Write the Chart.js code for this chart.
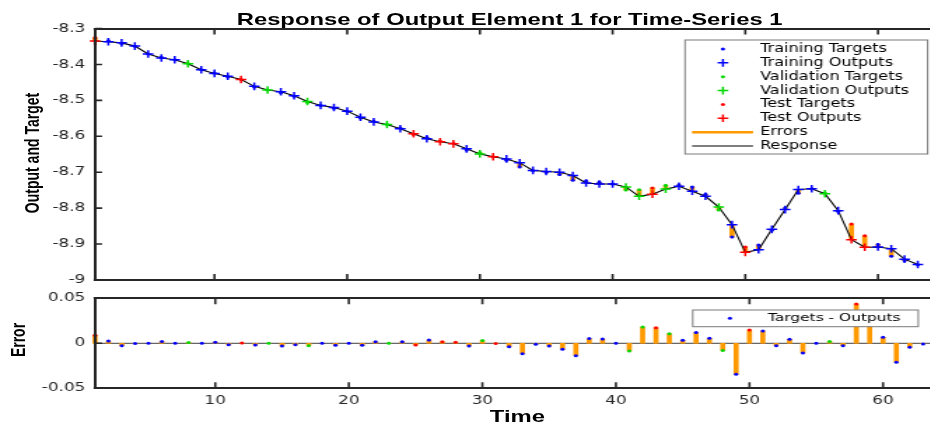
<!DOCTYPE html>
<html>
<head>
<meta charset="utf-8">
<script src="https://cdn.jsdelivr.net/npm/chart.js@4.4.1/dist/chart.umd.min.js"></script>
<style>
  html, body { margin: 0; padding: 0; background: #fff; overflow: hidden; }
  /* the reference figure is stretched sideways, so draw narrow and scale */
  #figure {
    position: absolute; left: 0; top: 0; width: 664px; height: 423px;
    transform: scaleX(1.4); transform-origin: 0 0;
    font-family: "Liberation Sans", Arial, sans-serif; color: #000;
  }
  canvas { position: absolute; left: 0; }
  #topChart { top: 0; }
  #botChart { top: 290px; }
  .frame {
    position: absolute; left: 66.9px; width: 620px; box-sizing: border-box;
    border-left: 2px solid #262626; border-top: 2px solid #262626; border-bottom: 2px solid #262626;
    pointer-events: none; z-index: 2;
  }
  #frameTop { top: 27.5px; height: 253.5px; }
  #frameBot { top: 297.3px; height: 92px; }
  .lbl { position: absolute; white-space: nowrap; font-weight: bold; }
  #title { left: 114px; width: 500px; top: 10.6px; text-align: center; font-size: 17px; line-height: 17px; }
  #xlab  { left: 269.6px; width: 200px; top: 408px; text-align: center; font-size: 17px; line-height: 17px; }
  .ylab  { font-size: 14px; line-height: 14px; transform: translate(-50%, -50%) rotate(-90deg); }
  #ylabTop { left: 23.2px; top: 153px; }
  #ylabBot { left: 12.9px; top: 340px; }
</style>
</head>
<body>
<div id="figure">
  <canvas id="topChart" width="664" height="290"></canvas>
  <canvas id="botChart" width="664" height="133"></canvas>
  <div class="frame" id="frameTop"></div>
  <div class="frame" id="frameBot"></div>
  <div class="lbl" id="title">Response of Output Element 1 for Time-Series 1</div>
  <div class="lbl" id="xlab">Time</div>
  <div class="lbl ylab" id="ylabTop">Output and Target</div>
  <div class="lbl ylab" id="ylabBot">Error</div>
</div>
<script>
"use strict";

// time steps
const TIME_STEPS = [
   1,  2,  3,  4,  5,  6,  7,  8,  9, 10, 11, 12, 13, 14, 15, 16, 17, 18, 19, 20, 21,
  22, 23, 24, 25, 26, 27, 28, 29, 30, 31, 32, 33, 34, 35, 36, 37, 38, 39, 40, 41, 42,
  43, 44, 45, 46, 47, 48, 49, 50, 51, 52, 53, 54, 55, 56, 57, 58, 59, 60, 61, 62, 63
];

// network outputs
const OUTPUTS = [
  -8.335, -8.337, -8.340, -8.349, -8.371, -8.382, -8.387, -8.398, -8.415, -8.425,
  -8.433, -8.442, -8.461, -8.471, -8.476, -8.487, -8.503, -8.514, -8.520, -8.530,
  -8.547, -8.560, -8.567, -8.579, -8.593, -8.607, -8.615, -8.621, -8.635, -8.649,
  -8.657, -8.663, -8.674, -8.695, -8.698, -8.700, -8.709, -8.730, -8.733, -8.733,
  -8.741, -8.767, -8.761, -8.747, -8.739, -8.753, -8.767, -8.797, -8.846, -8.923,
  -8.916, -8.859, -8.804, -8.748, -8.746, -8.760, -8.807, -8.888, -8.909, -8.908,
  -8.913, -8.942, -8.957
];

// targets - outputs
const ERRORS = [
   0.0090,  0.0026, -0.0026, -0.0003,  0.0000,  0.0020,  0.0000,  0.0010,  0.0000,  0.0013,
  -0.0017,  0.0003, -0.0020,  0.0000, -0.0030, -0.0017, -0.0027,  0.0000, -0.0023,  0.0000,
  -0.0023,  0.0018,  0.0000,  0.0018, -0.0020,  0.0037,  0.0018,  0.0013, -0.0029,  0.0030,
  -0.0003, -0.0037, -0.0115, -0.0010, -0.0030, -0.0067, -0.0137,  0.0052,  0.0048,  0.0000,
  -0.0085,  0.0180,  0.0174,  0.0107,  0.0033,  0.0120,  0.0056, -0.0081, -0.0344,  0.0148,
   0.0137, -0.0026,  0.0044, -0.0107,  0.0000,  0.0020, -0.0026,  0.0437,  0.0320,  0.0067,
  -0.0210, -0.0043, -0.0007
];

// which time steps belong to the validation and test sets (rest is training)
const VAL_STEPS  = [8, 14, 17, 23, 30, 41, 42, 44, 48, 56];
const TEST_STEPS = [1, 12, 25, 27, 28, 31, 43, 50, 58, 59];

// axis ticks
const X_TICKS       = [10, 20, 30, 40, 50, 60];
const X_LABELS      = ["10", "20", "30", "40", "50", "60"];
const Y_TICKS_TOP   = [-9, -8.9, -8.8, -8.7, -8.6, -8.5, -8.4, -8.3];
const Y_LABELS_TOP  = ["-9", "-8.9", "-8.8", "-8.7", "-8.6", "-8.5", "-8.4", "-8.3"];
const Y_TICKS_BOT   = [-0.05, 0, 0.05];
const Y_LABELS_BOT  = ["-0.05", "0", "0.05"];

const X_MIN = 1;
const X_MAX = 63.33;

// colours
const COLORS = {
  train:  "#0000ff",
  val:    "#00d800",
  test:   "#ff0000",
  error:  "#ff9900",
  resp:   "#000000",
  axis:   "#262626",
  zero:   "#404040",
  legend: "#7a7a7a"
};

const TICK_FONT = { family: "'DejaVu Sans', sans-serif", size: 12 };

function groupOf(t) {
  if (TEST_STEPS.includes(t)) return "test";
  if (VAL_STEPS.includes(t))  return "val";
  return "train";
}

// points of one group, y picked by fn
function groupPoints(group, fn) {
  const pts = [];
  TIME_STEPS.forEach((t, i) => {
    if (groupOf(t) === group) pts.push({ x: t, y: fn(i) });
  });
  return pts;
}

const target = i => OUTPUTS[i] + ERRORS[i];

// inward tick marks (MATLAB look)
function drawTicks(chart, box, yTicks) {
  const ctx = chart.ctx;
  const xs = chart.scales.x;
  const ys = chart.scales.y;
  ctx.save();
  ctx.strokeStyle = COLORS.axis;
  ctx.lineWidth = 1.6;
  ctx.beginPath();
  X_TICKS.forEach(v => {
    const px = xs.getPixelForValue(v);
    ctx.moveTo(px, box.top);
    ctx.lineTo(px, box.top + 6);
    ctx.moveTo(px, box.bottom);
    ctx.lineTo(px, box.bottom - 6);
  });
  yTicks.forEach(v => {
    const py = ys.getPixelForValue(v);
    ctx.moveTo(box.left, py);
    ctx.lineTo(box.left + 5, py);
  });
  ctx.stroke();
  ctx.restore();
}

// boxed legend drawn from the datasets' own labels and styles
function drawLegend(chart, opts) {
  const ctx = chart.ctx;
  ctx.save();
  ctx.fillStyle = "#fff";
  ctx.fillRect(opts.left, opts.top, opts.width, opts.height);
  ctx.strokeStyle = COLORS.legend;
  ctx.lineWidth = 1;
  ctx.strokeRect(opts.left, opts.top, opts.width, opts.height);
  ctx.font = opts.fontSize + "px 'DejaVu Sans', sans-serif";
  ctx.textBaseline = "middle";
  ctx.textAlign = "left";

  opts.order.forEach((label, k) => {
    const ds = chart.data.datasets.find(d => d.label === label);
    const y  = opts.firstY + k * opts.step;
    const cx = opts.symbolX;
    if (ds.type === "bar") {
      ctx.strokeStyle = ds.backgroundColor;
      ctx.lineWidth = 2.5;
      ctx.beginPath(); ctx.moveTo(opts.lineX0, y); ctx.lineTo(opts.lineX1, y); ctx.stroke();
    } else if (ds.showLine) {
      ctx.strokeStyle = ds.borderColor;
      ctx.lineWidth = ds.borderWidth;
      ctx.beginPath(); ctx.moveTo(opts.lineX0, y); ctx.lineTo(opts.lineX1, y); ctx.stroke();
    } else if (ds.pointStyle === "cross") {
      const r = ds.pointRadius;
      ctx.strokeStyle = ds.borderColor;
      ctx.lineWidth = ds.borderWidth;
      ctx.beginPath();
      ctx.moveTo(cx - r, y); ctx.lineTo(cx + r, y);
      ctx.moveTo(cx, y - r); ctx.lineTo(cx, y + r);
      ctx.stroke();
    } else {
      ctx.fillStyle = ds.backgroundColor;
      ctx.beginPath(); ctx.arc(cx, y, ds.pointRadius, 0, Math.PI * 2); ctx.fill();
    }
    ctx.fillStyle = "#000";
    ctx.fillText(ds.label, opts.textX, y);
  });
  ctx.restore();
}

// zero line under the data, ticks and legend on top
const matlabDecor = {
  id: "matlabDecor",
  beforeDatasetsDraw(chart, args, opts) {
    if (!opts.zeroLine) return;
    const ctx = chart.ctx;
    const py = chart.scales.y.getPixelForValue(0);
    ctx.save();
    ctx.strokeStyle = COLORS.zero;
    ctx.lineWidth = 1;
    ctx.beginPath();
    ctx.moveTo(opts.box.left, py);
    ctx.lineTo(opts.box.right, py);
    ctx.stroke();
    ctx.restore();
  },
  afterDraw(chart, args, opts) {
    drawTicks(chart, opts.box, opts.zeroLine ? Y_TICKS_BOT : Y_TICKS_TOP);
    drawLegend(chart, opts.legend);
  }
};

Chart.defaults.font.family = TICK_FONT.family;
Chart.defaults.font.size   = TICK_FONT.size;
Chart.defaults.color       = COLORS.axis;

function crossSet(label, group) {
  return {
    type: "line", label, showLine: false, clip: false,
    data: groupPoints(group, i => OUTPUTS[i]),
    pointStyle: "cross", pointRadius: 3.8, pointHoverRadius: 3.8,
    borderColor: COLORS[group], backgroundColor: COLORS[group], borderWidth: 1.5
  };
}

function dotSet(label, group, fn) {
  return {
    type: "line", label, showLine: false, clip: false,
    data: groupPoints(group, fn),
    pointStyle: "circle", pointRadius: 1.5, pointHoverRadius: 1.5,
    borderWidth: 0, borderColor: COLORS[group], backgroundColor: COLORS[group]
  };
}

function noPad(s) {
  s.paddingTop = 0; s.paddingBottom = 0; s.paddingLeft = 0; s.paddingRight = 0;
}

function xScale(showLabels, height) {
  return {
    type: "linear", min: X_MIN, max: X_MAX, display: showLabels, offset: false,
    grid: { display: false, drawTicks: false, offset: false },
    border: { display: false },
    afterBuildTicks: s => { s.ticks = X_TICKS.map(v => ({ value: v })); },
    afterFit: s => { s.height = height; noPad(s); },
    ticks: { padding: 5, maxRotation: 0, autoSkip: false, callback: (v, i) => X_LABELS[i] }
  };
}

function yScale(min, max, ticks, labels) {
  return {
    type: "linear", min, max, beginAtZero: false,
    grid: { display: false, drawTicks: false },
    border: { display: false },
    afterBuildTicks: s => { s.ticks = ticks.map(v => ({ value: v })); },
    afterFit: s => { s.width = 67.9; noPad(s); },
    ticks: { padding: 7, autoSkip: false, callback: (v, i) => labels[i] }
  };
}

// upper plot: outputs, targets, response and errors
new Chart(document.getElementById("topChart"), {
  type: "line",
  plugins: [matlabDecor],
  data: {
    datasets: [
      crossSet("Training Outputs", "train"),
      crossSet("Validation Outputs", "val"),
      crossSet("Test Outputs", "test"),
      dotSet("Training Targets", "train", target),
      dotSet("Validation Targets", "val", target),
      dotSet("Test Targets", "test", target),
      {
        type: "line", label: "Response", showLine: true, clip: false,
        data: TIME_STEPS.map((t, i) => ({ x: t, y: OUTPUTS[i] })),
        borderColor: COLORS.resp, borderWidth: 1.1, pointRadius: 0, tension: 0
      },
      {
        type: "bar", label: "Errors", clip: false,
        data: TIME_STEPS.map((t, i) => ({ x: t, y: [OUTPUTS[i], target(i)] })),
        backgroundColor: COLORS.error, borderWidth: 0, barThickness: 3
      }
    ]
  },
  options: {
    responsive: false,
    animation: false,
    events: [],
    layout: { padding: { top: 28.5, bottom: 10, left: 0, right: 0 } },
    scales: {
      x: xScale(false, 0),
      y: yScale(-9, -8.3, Y_TICKS_TOP, Y_LABELS_TOP)
    },
    plugins: {
      legend: { display: false },
      tooltip: { enabled: false },
      matlabDecor: {
        zeroLine: false,
        box: { left: 67.9, right: 664, top: 28.5, bottom: 280 },
        legend: {
          left: 489.3, top: 40, width: 173.3, height: 114,
          firstY: 49, step: 13.86, symbolX: 516.4, lineX0: 494.3, lineX1: 537.9, textX: 542.9,
          fontSize: 11.5,
          order: ["Training Targets", "Training Outputs", "Validation Targets", "Validation Outputs",
                  "Test Targets", "Test Outputs", "Errors", "Response"]
        }
      }
    }
  }
});

// lower plot: errors per time step
new Chart(document.getElementById("botChart"), {
  type: "line",
  plugins: [matlabDecor],
  data: {
    datasets: [
      dotSet("Targets - Outputs", "train", i => ERRORS[i]),
      dotSet("Validation Errors", "val", i => ERRORS[i]),
      dotSet("Test Errors", "test", i => ERRORS[i]),
      {
        type: "bar", label: "Error Bars", clip: false,
        data: TIME_STEPS.map((t, i) => ({ x: t, y: [0, ERRORS[i]] })),
        backgroundColor: COLORS.error, borderWidth: 0, barThickness: 3
      }
    ]
  },
  options: {
    responsive: false,
    animation: false,
    events: [],
    layout: { padding: { top: 8.3, bottom: 0, left: 0, right: 0 } },
    scales: {
      x: xScale(true, 34.7),
      y: yScale(-0.05, 0.05, Y_TICKS_BOT, Y_LABELS_BOT)
    },
    plugins: {
      legend: { display: false },
      tooltip: { enabled: false },
      matlabDecor: {
        zeroLine: true,
        box: { left: 67.9, right: 664, top: 8.3, bottom: 98.3 },
        legend: {
          left: 494.8, top: 20, width: 161.1, height: 16.7,
          firstY: 28.3, step: 0, symbolX: 521.4, lineX0: 0, lineX1: 0, textX: 548.6,
          fontSize: 11,
          order: ["Targets - Outputs"]
        }
      }
    }
  }
});
</script>
</body>
</html>
